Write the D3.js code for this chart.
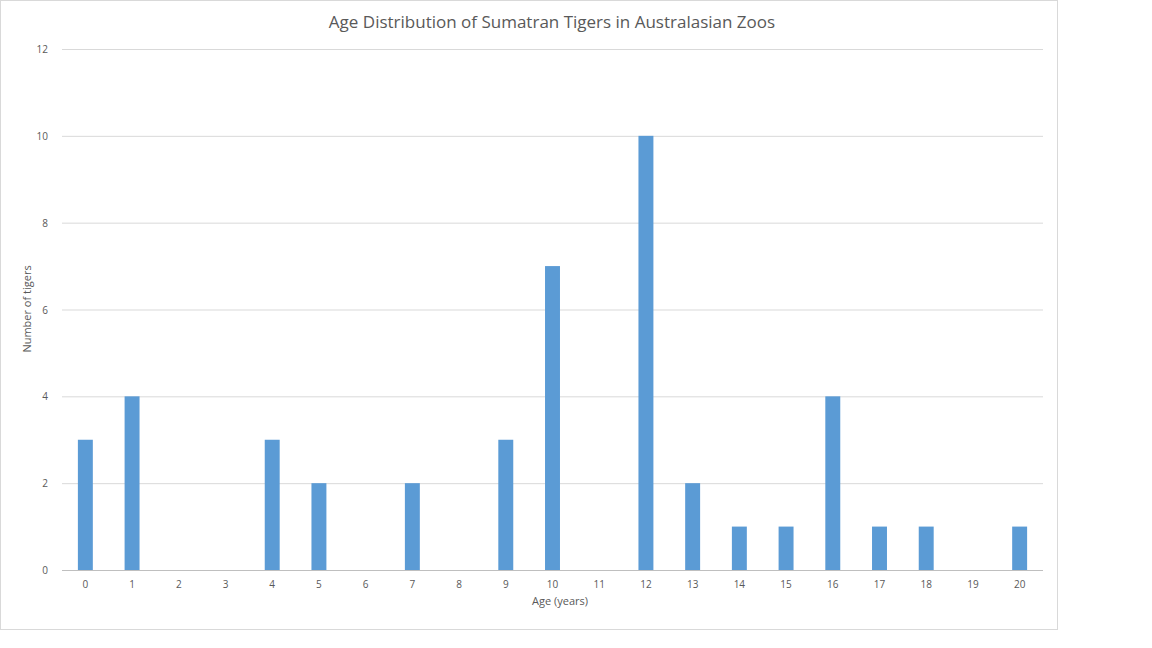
<!DOCTYPE html>
<html><head><meta charset="utf-8">
<script src="https://cdn.jsdelivr.net/npm/d3@7"></script>
<style>body{margin:0;background:#fff;font-family:"Open Sans","Liberation Sans",sans-serif;}</style>
</head><body><svg id="c" width="1152" height="648"></svg>
<script>
const ages = ["0","1","2","3","4","5","6","7","8","9","10","11","12","13","14","15","16","17","18","19","20"];
const counts = [3,4,0,0,3,2,0,2,0,3,7,0,10,2,1,1,4,1,1,0,1];
const yTicks = [0,2,4,6,8,10,12];

const svg = d3.select("#c");
svg.append("rect").attr("x",0.5).attr("y",0.5).attr("width",1057).attr("height",629)
  .attr("fill","#fff").attr("stroke","#d9d9d9");
const L=62,R=1043,T=49,B=570;
const x=d3.scaleBand().domain(ages).range([L,R]).paddingInner(0.68).paddingOuter(0.34);
const y=d3.scaleLinear().domain([0,12]).range([B,T]);

svg.append("g").selectAll("line").data(yTicks).join("line")
  .attr("x1",L).attr("x2",R).attr("y1",d=>y(d)+0.5).attr("y2",d=>y(d)+0.5)
  .attr("stroke",d=>d===0?"#bfbfbf":"#d9d9d9");
svg.append("g").selectAll("text").data(yTicks).join("text")
  .attr("x",L-14).attr("y",d=>y(d)+4).attr("text-anchor","end")
  .attr("font-size",10).attr("fill","#595959").text(d=>d);
svg.append("g").selectAll("rect").data(counts).join("rect")
  .attr("x",(d,i)=>x(ages[i])).attr("width",x.bandwidth())
  .attr("y",d=>y(d)).attr("height",d=>B-y(d)).attr("fill","#5b9bd5");
svg.append("g").selectAll("text").data(ages).join("text")
  .attr("x",d=>x(d)+x.bandwidth()/2).attr("y",B+18).attr("text-anchor","middle")
  .attr("font-size",10).attr("fill","#595959").text(d=>d);
svg.append("text").attr("x",552).attr("y",28).attr("text-anchor","middle")
  .attr("font-size",17).attr("fill","#595959").text("Age Distribution of Sumatran Tigers in Australasian Zoos");
svg.append("text").attr("x",560).attr("y",605).attr("text-anchor","middle")
  .attr("font-size",11).attr("fill","#595959").text("Age  (years)");
svg.append("text").attr("transform","translate(31,309) rotate(-90)").attr("text-anchor","middle")
  .attr("font-size",11).attr("fill","#595959").text("Number  of tigers");
</script></body></html>
